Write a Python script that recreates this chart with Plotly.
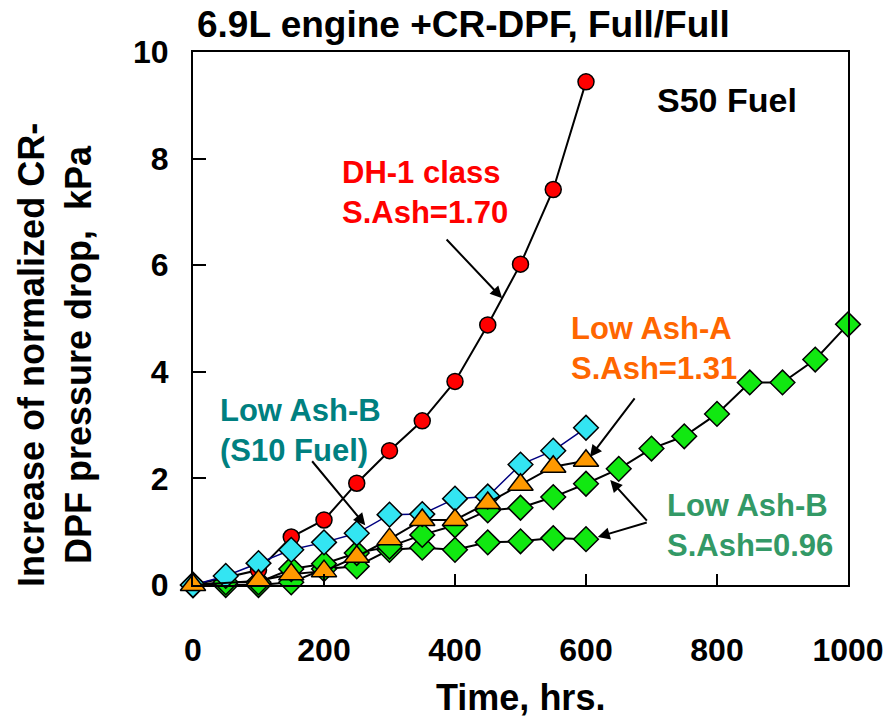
import plotly.graph_objects as go

# ---------------- data ----------------
hours_600 = [0, 50, 100, 150, 200, 250, 300, 350, 400, 450, 500, 550, 600]
hours_1000 = [0, 50, 100, 150, 200, 250, 300, 350, 400, 450, 500, 550, 600,
              650, 700, 750, 800, 850, 900, 950, 1000]

dh1_hours = [0, 100, 150, 200, 250, 300, 350, 400, 450, 500, 550, 600]
dh1_vals = [0.0, 0.28, 0.90, 1.22, 1.91, 2.52, 3.08, 3.82, 4.88, 6.02, 7.42, 9.44]

s10_vals = [0.0, 0.17, 0.41, 0.66, 0.80, 0.97, 1.32, 1.33, 1.62, 1.66, 2.26, 2.52, 2.95]

ashA_hours = [0, 100, 150, 200, 250, 300, 350, 400, 450, 500, 550, 600]
ashA_vals = [0.0, 0.08, 0.20, 0.26, 0.53, 0.86, 1.22, 1.22, 1.54, 1.88, 2.22, 2.33]

ashB_up_vals = [0.0, 0.05, 0.05, 0.30, 0.40, 0.60, 0.72, 0.94, 1.12, 1.40, 1.45, 1.65, 1.90,
                2.18, 2.56, 2.79, 3.21, 3.80, 3.80, 4.23, 4.89]
ashB_low_vals = [0.0, 0.0, 0.0, 0.05, 0.30, 0.35, 0.66, 0.70, 0.66, 0.80, 0.82, 0.88, 0.86]

x_ticks = [0, 200, 400, 600, 800, 1000]
y_ticks = [0, 2, 4, 6, 8, 10]

FONT = "Liberation Sans, Arial, sans-serif"

fig = go.Figure()

def add(xs, ys, symbol, color, size, line_color="black", line_width=2):
    fig.add_trace(go.Scatter(
        x=xs, y=ys, mode="lines+markers", cliponaxis=False,
        line=dict(color=line_color, width=line_width),
        marker=dict(symbol=symbol, color=color, size=size,
                    line=dict(color="black", width=1.5)),
        showlegend=False))

add(hours_600, ashB_low_vals, "diamond", "#11E811", 19)
add(hours_1000, ashB_up_vals, "diamond", "#11E811", 19)
add(dh1_hours, dh1_vals, "circle", "#FF0000", 16)
add(hours_600, s10_vals, "diamond", "#33E5F2", 19, line_color="#000080", line_width=1.5)
add(ashA_hours, ashA_vals, "triangle-up", "#FF9900", 22)

W, H = 896, 720
L, R, T, B = 193, 48, 52, 135
pw, ph = W - L - R, H - T - B

def px(xp):
    return (xp - L) / pw

def py(yp):
    return (H - B - yp) / ph

annotations = [
    dict(text="<b>6.9L engine +CR-DPF, Full/Full</b>", xref="paper", yref="paper",
         x=px(195), y=py(25), xanchor="left", yanchor="middle", showarrow=False,
         font=dict(size=37, color="black", family=FONT)),
    dict(text="<b>Increase of normalized CR-<br>DPF pressure drop,  kPa</b>",
         xref="paper", yref="paper", x=px(55), y=py(355), textangle=-90,
         xanchor="center", yanchor="middle", showarrow=False,
         font=dict(size=36, color="black", family=FONT)),
    dict(text="<b>Time, hrs.</b>", xref="paper", yref="paper",
         x=px(520), y=py(697), xanchor="center", yanchor="middle", showarrow=False,
         font=dict(size=36, color="black", family=FONT)),
    dict(text="<b>S50 Fuel</b>", xref="x", yref="y", x=705, y=9.1,
         xanchor="left", yanchor="middle", showarrow=False,
         font=dict(size=34, color="black", family=FONT)),
    dict(text="<b>DH-1 class<br>S.Ash=1.70</b>", xref="x", yref="y", x=224, y=7.37,
         xanchor="left", yanchor="middle", align="left", showarrow=False,
         font=dict(size=31, color="#FF0000", family=FONT)),
    dict(text="<b>Low Ash-A<br>S.Ash=1.31</b>", xref="x", yref="y", x=574, y=4.43,
         xanchor="left", yanchor="middle", align="left", showarrow=False,
         font=dict(size=31, color="#FF6600", family=FONT)),
    dict(text="<b>Low Ash-B<br>(S10 Fuel)</b>", xref="x", yref="y", x=38, y=2.89,
         xanchor="left", yanchor="middle", align="left", showarrow=False,
         font=dict(size=31, color="#008080", family=FONT)),
    dict(text="<b>Low Ash-B<br>S.Ash=0.96</b>", xref="x", yref="y", x=721, y=1.11,
         xanchor="left", yanchor="middle", align="left", showarrow=False,
         font=dict(size=31, color="#339966", family=FONT)),
]

arrows = [
    ((385, 6.51), (472, 5.38)),
    ((676, 3.53), (606, 2.40)),
    ((180, 2.35), (263, 1.12)),
    ((695, 1.18), (637, 1.97)),
    ((695, 1.18), (618, 0.90)),
]
for (tx, ty), (hx, hy) in arrows:
    annotations.append(dict(
        x=hx, y=hy, ax=tx, ay=ty, xref="x", yref="y", axref="x", ayref="y",
        text="", showarrow=True, arrowhead=2, arrowsize=1.2, arrowwidth=2,
        arrowcolor="black"))

fig.update_layout(
    width=W, height=H,
    margin=dict(l=L, r=R, t=T, b=B),
    paper_bgcolor="white", plot_bgcolor="white",
    font=dict(family=FONT, color="black"),
    annotations=annotations,
)

fig.update_xaxes(
    range=[0, 1000], tickvals=x_ticks, ticktext=[f"<b>{v}</b>" for v in x_ticks],
    ticks="inside", ticklen=11, tickwidth=1.5, tickcolor="black",
    showline=True, linewidth=2, linecolor="black", mirror=True,
    showgrid=False, zeroline=False,
    tickfont=dict(size=32, family=FONT, color="black"),
    ticklabelstandoff=36,
)
fig.update_yaxes(
    range=[0, 10], tickvals=y_ticks, ticktext=[f"<b>{v}</b>" for v in y_ticks],
    ticks="inside", ticklen=13, tickwidth=1.5, tickcolor="black",
    showline=True, linewidth=2, linecolor="black", mirror=True,
    showgrid=False, zeroline=False,
    tickfont=dict(size=32, family=FONT, color="black"),
    ticklabelstandoff=16,
)

fig.write_html("out.html")
